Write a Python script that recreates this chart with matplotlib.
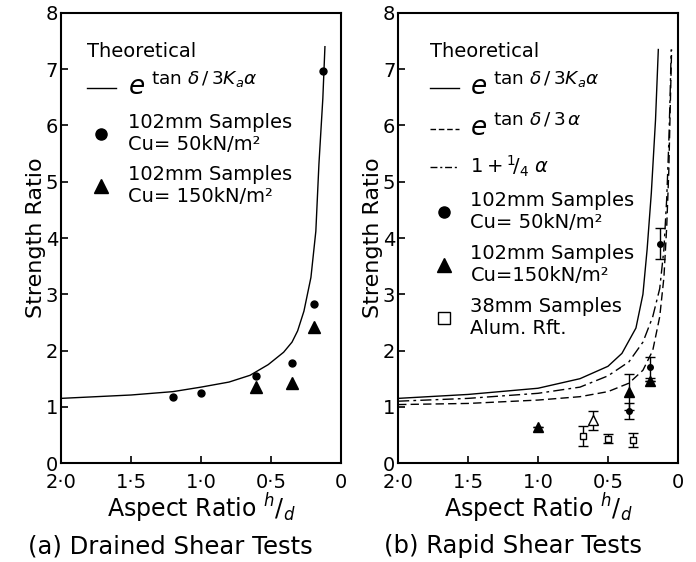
import matplotlib.pyplot as plt
from matplotlib.lines import Line2D

# (a) drained shear tests - theoretical curve
a_theo_hd = [2.0, 1.5, 1.2, 1.0, 0.8, 0.65, 0.52, 0.41, 0.35, 0.31, 0.265, 0.215, 0.18, 0.158, 0.13, 0.115]
a_theo_sr = [1.15, 1.21, 1.27, 1.35, 1.44, 1.56, 1.75, 1.97, 2.15, 2.35, 2.7, 3.3, 4.12, 5.31, 6.48, 7.4]

a_cu50_hd = [1.2, 1.0, 0.61, 0.35, 0.19, 0.13]
a_cu50_sr = [1.17, 1.24, 1.54, 1.77, 2.83, 6.97]
a_cu150_hd = [0.61, 0.35, 0.19]
a_cu150_sr = [1.35, 1.43, 2.42]

# (b) rapid shear tests - the three theoretical curves
b_solid_hd = [2.0, 1.5, 1.0, 0.7, 0.5, 0.4, 0.3, 0.25, 0.22, 0.19, 0.16, 0.14]
b_solid_sr = [1.15, 1.22, 1.33, 1.5, 1.72, 1.95, 2.4, 3.0, 3.8, 4.8, 6.1, 7.35]
b_dash_hd = [2.0, 1.5, 1.0, 0.7, 0.5, 0.35, 0.25, 0.18, 0.13, 0.1, 0.08, 0.065, 0.055, 0.045]
b_dash_sr = [1.04, 1.06, 1.12, 1.18, 1.27, 1.42, 1.65, 2.0, 2.6, 3.3, 4.2, 5.2, 6.3, 7.35]
b_dashdot_hd = [2.0, 1.5, 1.0, 0.7, 0.5, 0.35, 0.25, 0.18, 0.13, 0.1, 0.08, 0.065, 0.055, 0.048]
b_dashdot_sr = [1.1, 1.15, 1.24, 1.35, 1.55, 1.8, 2.15, 2.6, 3.1, 3.8, 4.7, 5.7, 6.6, 7.35]

b_cu50_hd = [0.35, 0.2, 0.13]
b_cu50_sr = [0.92, 1.7, 3.9]
b_cu50_err = [0.14, 0.18, 0.28]
b_cu150_hd = [1.0, 0.35, 0.2]
b_cu150_sr = [0.64, 1.26, 1.45]
b_cu150_err = [0.0, 0.32, 0.0]
b_open_tri_hd = [0.61]
b_open_tri_sr = [0.76]
b_open_tri_err = [0.17]
b_38mm_hd = [0.68, 0.5, 0.32]
b_38mm_sr = [0.48, 0.43, 0.41]
b_38mm_err = [0.18, 0.08, 0.12]

xticks = [2.0, 1.5, 1.0, 0.5, 0.0]
xticklabels = ["2·0", "1·5", "1·0", "0·5", "0"]
yticks = [0, 1, 2, 3, 4, 5, 6, 7, 8]

plt.rcParams['font.family'] = 'DejaVu Sans'

fig = plt.figure(figsize=(6.96, 5.62), dpi=100)
ax1 = fig.add_axes([0.0876, 0.176, 0.4024, 0.801])
ax2 = fig.add_axes([0.572, 0.176, 0.402, 0.801])


def setup(ax):
    ax.set_xlim(2.0, 0.0)
    ax.set_ylim(0, 8)
    ax.set_xticks(xticks)
    ax.set_xticklabels(xticklabels)
    ax.set_yticks(yticks)
    ax.tick_params(direction='in', length=5, width=1.2, labelsize=14)
    ax.tick_params(axis='x', pad=7)
    ax.tick_params(axis='y', pad=2)
    for s in ax.spines.values():
        s.set_linewidth(1.5)
    ax.set_ylabel("Strength Ratio", fontsize=16, labelpad=0)
    ax.set_xlabel(r"Aspect Ratio $^{h}/_{d}$", fontsize=17, labelpad=0)


def big_e(leg, idx):
    # the exponential labels are drawn with a large "e"
    for i in idx:
        leg.get_texts()[i].set_fontsize(19)


# panel (a)
setup(ax1)
ax1.plot(a_theo_hd, a_theo_sr, color='black', lw=1.0)
ax1.plot(a_cu50_hd, a_cu50_sr, 'o', color='black', ms=5)
ax1.plot(a_cu150_hd, a_cu150_sr, '^', color='black', ms=8)

h_a = [
    Line2D([], [], color='black', lw=1.0),
    Line2D([], [], marker='o', ls='none', color='black', ms=8),
    Line2D([], [], marker='^', ls='none', color='black', ms=10),
]
l_a = [
    r"$e^{\ \tan\,\delta\,/\,3K_a\alpha}$",
    "102mm Samples\nCu= 50kN/m²",
    "102mm Samples\nCu= 150kN/m²",
]
leg = ax1.legend(h_a, l_a, title="Theoretical", loc='upper left', bbox_to_anchor=(0.03, 0.975),
                 frameon=False, fontsize=14, title_fontsize=14, handlelength=1.5,
                 handletextpad=0.6, labelspacing=0.6, alignment='left')
big_e(leg, [0])

ax1.text(0.39, -0.185, "(a) Drained Shear Tests", transform=ax1.transAxes,
         ha='center', va='center', fontsize=17.5)

# panel (b)
setup(ax2)
ax2.plot(b_solid_hd, b_solid_sr, color='black', lw=1.0)
ax2.plot(b_dash_hd, b_dash_sr, color='black', lw=1.0, ls=(0, (6, 3)))
ax2.plot(b_dashdot_hd, b_dashdot_sr, color='black', lw=1.0, ls=(0, (8, 3, 2, 3)))
ax2.errorbar(b_cu50_hd, b_cu50_sr, yerr=b_cu50_err, fmt='o', color='black', ms=4,
             capsize=3.5, elinewidth=1.0)
ax2.errorbar(b_cu150_hd, b_cu150_sr, yerr=b_cu150_err, fmt='^', color='black', ms=7,
             capsize=3.5, elinewidth=1.0)
ax2.errorbar(b_open_tri_hd, b_open_tri_sr, yerr=b_open_tri_err, fmt='^', color='black',
             mfc='white', ms=7, capsize=3.5, elinewidth=1.0)
ax2.errorbar(b_38mm_hd, b_38mm_sr, yerr=b_38mm_err, fmt='s', color='black', mfc='white',
             ms=5, capsize=3.5, elinewidth=1.0)

h_b = [
    Line2D([], [], color='black', lw=1.0),
    Line2D([], [], color='black', lw=1.0, ls=(0, (4, 2))),
    Line2D([], [], color='black', lw=1.0, ls=(0, (5, 2, 1.5, 2))),
    Line2D([], [], marker='o', ls='none', color='black', ms=8),
    Line2D([], [], marker='^', ls='none', color='black', ms=10),
    Line2D([], [], marker='s', ls='none', color='black', mfc='white', ms=8),
]
l_b = [
    r"$e^{\ \tan\,\delta\,/\,3K_a\alpha}$",
    r"$e^{\ \tan\,\delta\,/\,3\,\alpha}$",
    r"$1 + {}^{1}\!/_{4}\ \alpha$",
    "102mm Samples\nCu= 50kN/m²",
    "102mm Samples\nCu=150kN/m²",
    "38mm Samples\nAlum. Rft.",
]
leg2 = ax2.legend(h_b, l_b, title="Theoretical", loc='upper left', bbox_to_anchor=(0.05, 0.975),
                  frameon=False, fontsize=14, title_fontsize=14, handlelength=1.5,
                  handletextpad=0.6, labelspacing=0.62, alignment='left')
big_e(leg2, [0, 1])

ax2.text(0.41, -0.185, "(b) Rapid Shear Tests", transform=ax2.transAxes,
         ha='center', va='center', fontsize=17.5)

fig.savefig("out.png", dpi=100)
